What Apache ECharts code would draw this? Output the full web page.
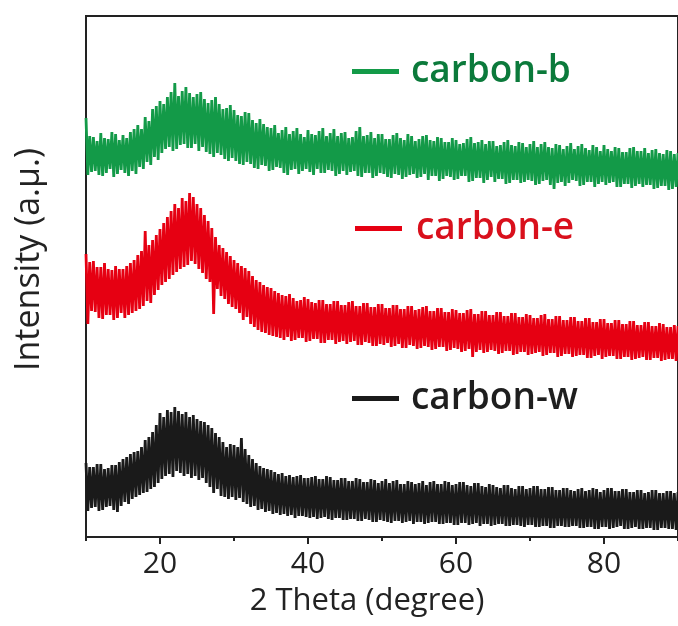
<!DOCTYPE html>
<html>
<head>
<meta charset="utf-8">
<title>XRD carbon</title>
<script src="https://cdn.jsdelivr.net/npm/echarts@6/dist/echarts.min.js"></script>
<style>
    html, body { margin: 0; padding: 0; background: #fff; }
    #xrd { width: 678px; height: 626px; }
</style>
</head>
<body>
<div id="xrd"></div>
<script>
// 2θ sampling of the traces (degree)
var thetaStart = 10, thetaStep = 0.25;

// intensity, offset curves (a.u.), 4 readings per degree
var carbonB = [
    419,362,401,365, 400,366,396,362, 404,361,399,364, 398,368,405,360, 403,363,397,367,
    402,364,399,361, 405,366,408,363, 412,370,408,368, 420,375,416,372, 428,380,431,377,
    436,384,433,388, 440,390,445,386, 454,388,441,392, 446,393,450,389, 444,389,440,393,
    443,386,445,390, 438,385,434,383, 437,380,440,384, 433,382,428,378, 429,376,432,379,
    427,376,422,373, 421,372,425,375, 424,373,417,369, 414,368,418,372, 413,371,410,366,
    409,367,412,370, 404,369,407,364, 410,362,403,367, 406,368,409,363, 403,366,400,368,
    407,365,403,362, 402,368,406,364, 409,364,401,367, 404,366,408,361, 401,363,404,366,
    405,362,399,365, 400,366,406,361, 410,360,401,364, 402,364,405,359, 399,361,403,364,
    403,363,398,360, 398,359,402,363, 404,362,399,358, 397,360,403,362, 401,363,396,359,
    398,360,401,363, 402,357,397,361, 396,361,400,356, 399,358,395,361, 395,360,399,357,
    397,358,393,361, 394,361,398,355, 400,356,394,359, 395,359,397,354, 393,357,396,360,
    396,355,391,358, 392,358,395,353, 397,354,392,357, 391,357,395,354, 394,355,390,357,
    393,356,396,352, 390,353,393,356, 395,357,390,352, 389,348,393,354, 392,355,388,351,
    391,354,394,357, 388,356,391,351, 393,352,389,355, 387,355,392,350, 390,353,386,355,
    392,352,388,354, 386,355,390,350, 389,350,385,353, 385,353,389,349, 390,351,386,353,
    386,350,389,352, 384,352,387,348, 388,349,384,351, 383,351,387,347, 386,348,383,350,
    384];

var carbonE = [
    283,213,275,226, 276,225,270,219, 270,218,274,222, 268,222,267,217, 271,219,268,224,
    268,219,271,222, 274,224,277,226, 282,228,286,231, 306,236,292,234, 297,242,302,247,
    308,252,314,255, 320,258,326,262, 333,265,329,268, 339,270,336,272, 344,276,340,273,
    333,268,329,264, 322,258,316,255, 309,223,300,248, 292,241,289,238, 285,233,281,230,
    277,228,274,224, 271,217,269,220, 266,213,261,210, 257,207,255,205, 252,204,250,202,
    249,201,246,200, 244,199,242,197, 241,200,243,196, 239,197,236,199, 237,199,240,195,
    238,196,235,198, 234,198,237,194, 237,194,233,197, 233,197,236,193, 236,195,232,196,
    232,193,235,195, 236,196,231,192, 231,192,234,195, 234,194,230,191, 230,191,233,193,
    233,192,229,194, 229,190,232,191, 232,193,228,189, 228,189,231,192, 231,191,227,188,
    228,189,230,191, 231,190,226,187, 226,188,229,190, 229,190,225,186, 225,187,228,189,
    227,188,224,185, 224,186,227,188, 228,180,223,185, 223,187,226,184, 226,185,222,187,
    222,186,225,183, 225,184,221,186, 221,186,224,182, 224,183,220,185, 220,185,223,182,
    222,183,219,184, 219,185,222,181, 223,182,218,184, 218,184,221,180, 221,181,217,183,
    217,183,220,180, 220,181,216,182, 216,182,219,179, 219,179,215,181, 215,182,218,178,
    218,180,214,181, 214,181,217,178, 217,178,213,180, 213,180,216,177, 216,178,212,179,
    212,180,215,177, 215,177,211,179, 211,179,214,176, 213,177,210,178, 210,178,212,176,
    211];

var carbonW = [
    74,26,70,29, 70,30,73,26, 73,27,68,30, 69,31,72,27, 72,25,75,31,
    78,35,80,33, 83,38,85,40, 86,42,90,44, 97,45,100,48, 105,50,112,54,
    124,58,120,61, 127,63,125,60, 130,66,126,64, 123,61,125,63, 120,59,122,61,
    118,57,116,59, 115,54,112,50, 109,44,104,48, 100,41,95,40, 90,38,93,40,
    92,37,90,39, 99,35,88,33, 82,30,78,31, 74,27,71,28, 69,25,68,26,
    67,23,65,24, 63,22,64,23, 61,21,62,22, 60,19,61,21, 62,21,59,20,
    59,19,60,20, 61,18,58,19, 58,20,61,18, 60,17,57,19, 57,19,59,17,
    59,17,56,18, 56,18,59,16, 58,16,55,18, 55,17,58,15, 57,15,54,17,
    56,16,58,15, 54,14,56,16, 57,16,53,14, 53,15,56,16, 55,13,53,15,
    54,15,56,13, 52,14,55,15, 56,15,53,13, 53,13,56,14, 55,14,52,12,
    53,12,55,14, 55,14,52,12, 51,13,54,14, 54,11,51,13, 50,13,53,11,
    52,12,50,13, 49,13,52,11, 52,11,49,12, 48,12,51,11, 51,10,48,12,
    49,12,51,10, 51,10,48,11, 48,11,50,9, 50,9,47,11, 47,11,49,10,
    49,10,47,11, 46,11,48,9, 49,9,46,10, 47,10,49,8, 48,8,45,10,
    47,10,49,8, 49,9,46,10, 46,11,48,8, 48,8,45,9, 45,10,47,8,
    47,8,44,9, 45,9,47,7, 47,7,44,9, 44,9,46,8, 46,8,44,7,
    45];

var xMajorTicks = [20, 40, 60, 80];
var xMinorTicks = [10, 30, 50, 70, 90];

var fontName = 'Open Sans';

function toPairs(arr) {
    var out = [];
    for (var i = 0; i < arr.length; i++) {
        out.push([thetaStart + i * thetaStep, arr[i]]);
    }
    return out;
}

function traceSeries(name, color, arr) {
    return {
        name: name,
        type: 'line',
        xAxisIndex: 0,
        showSymbol: false,
        symbol: 'none',
        sampling: null,
        lineStyle: { color: color, width: 2.8, join: 'bevel' },
        itemStyle: { color: color },
        data: toPairs(arr)
    };
}

function legendAt(name, textColor, left, top, padLeft) {
    return {
        data: [{ name: name, textStyle: { color: textColor } }],
        left: left,
        top: top,
        icon: 'rect',
        itemWidth: 47,
        itemHeight: 5,
        selectedMode: false,
        textStyle: {
            fontFamily: fontName,
            fontSize: 37,
            fontWeight: 600,
            lineHeight: 37,
            padding: [0, 0, 0, padLeft]
        }
    };
}

var xrd = echarts.init(document.getElementById('xrd'));

var option = {
    animation: false,
    backgroundColor: '#fff',
    grid: {
        left: 86,
        right: -6,
        top: 16,
        bottom: 89,
        show: true,
        borderColor: '#222',
        borderWidth: 2
    },
    legend: [
        legendAt('carbon-b', '#0b7a3b', 347, 48, 7),
        legendAt('carbon-e', '#d9101c', 350, 205, 9),
        legendAt('carbon-w', '#1e1e1e', 347, 375, 7)
    ],
    xAxis: [{
        type: 'value',
        min: 10,
        max: 90,
        interval: 10,
        name: '2 Theta (degree)',
        nameLocation: 'middle',
        nameGap: 49,
        nameTextStyle: {
            fontFamily: fontName, fontSize: 31, color: '#222',
            padding: [0, 30, 0, 0]
        },
        axisLine: { show: true, lineStyle: { color: '#222', width: 2 } },
        axisTick: { show: true, inside: false, length: 7, customValues: xMajorTicks,
            lineStyle: { color: '#222', width: 2 } },
        axisLabel: { show: true, customValues: xMajorTicks, margin: 12,
            fontFamily: fontName, fontSize: 30, color: '#222' },
        splitLine: { show: false }
    }, {
        type: 'value',
        position: 'bottom',
        min: 10,
        max: 90,
        interval: 10,
        axisLine: { show: false },
        axisTick: { show: true, inside: false, length: 4, customValues: xMinorTicks,
            lineStyle: { color: '#222', width: 2 } },
        axisLabel: { show: false },
        splitLine: { show: false }
    }],
    yAxis: {
        type: 'value',
        min: 0,
        max: 521,
        name: 'Intensity (a.\u03bc.)',
        nameLocation: 'middle',
        nameGap: 40,
        nameTextStyle: {
            fontFamily: fontName, fontSize: 34, color: '#222',
            padding: [0, 0, 0, 34]
        },
        axisLine: { show: true, lineStyle: { color: '#222', width: 2 } },
        axisTick: { show: false },
        axisLabel: { show: false },
        splitLine: { show: false }
    },
    series: [
        traceSeries('carbon-b', '#139a48', carbonB),
        traceSeries('carbon-e', '#e60012', carbonE),
        traceSeries('carbon-w', '#1a1a1a', carbonW)
    ]
};

xrd.setOption(option);
</script>
</body>
</html>
